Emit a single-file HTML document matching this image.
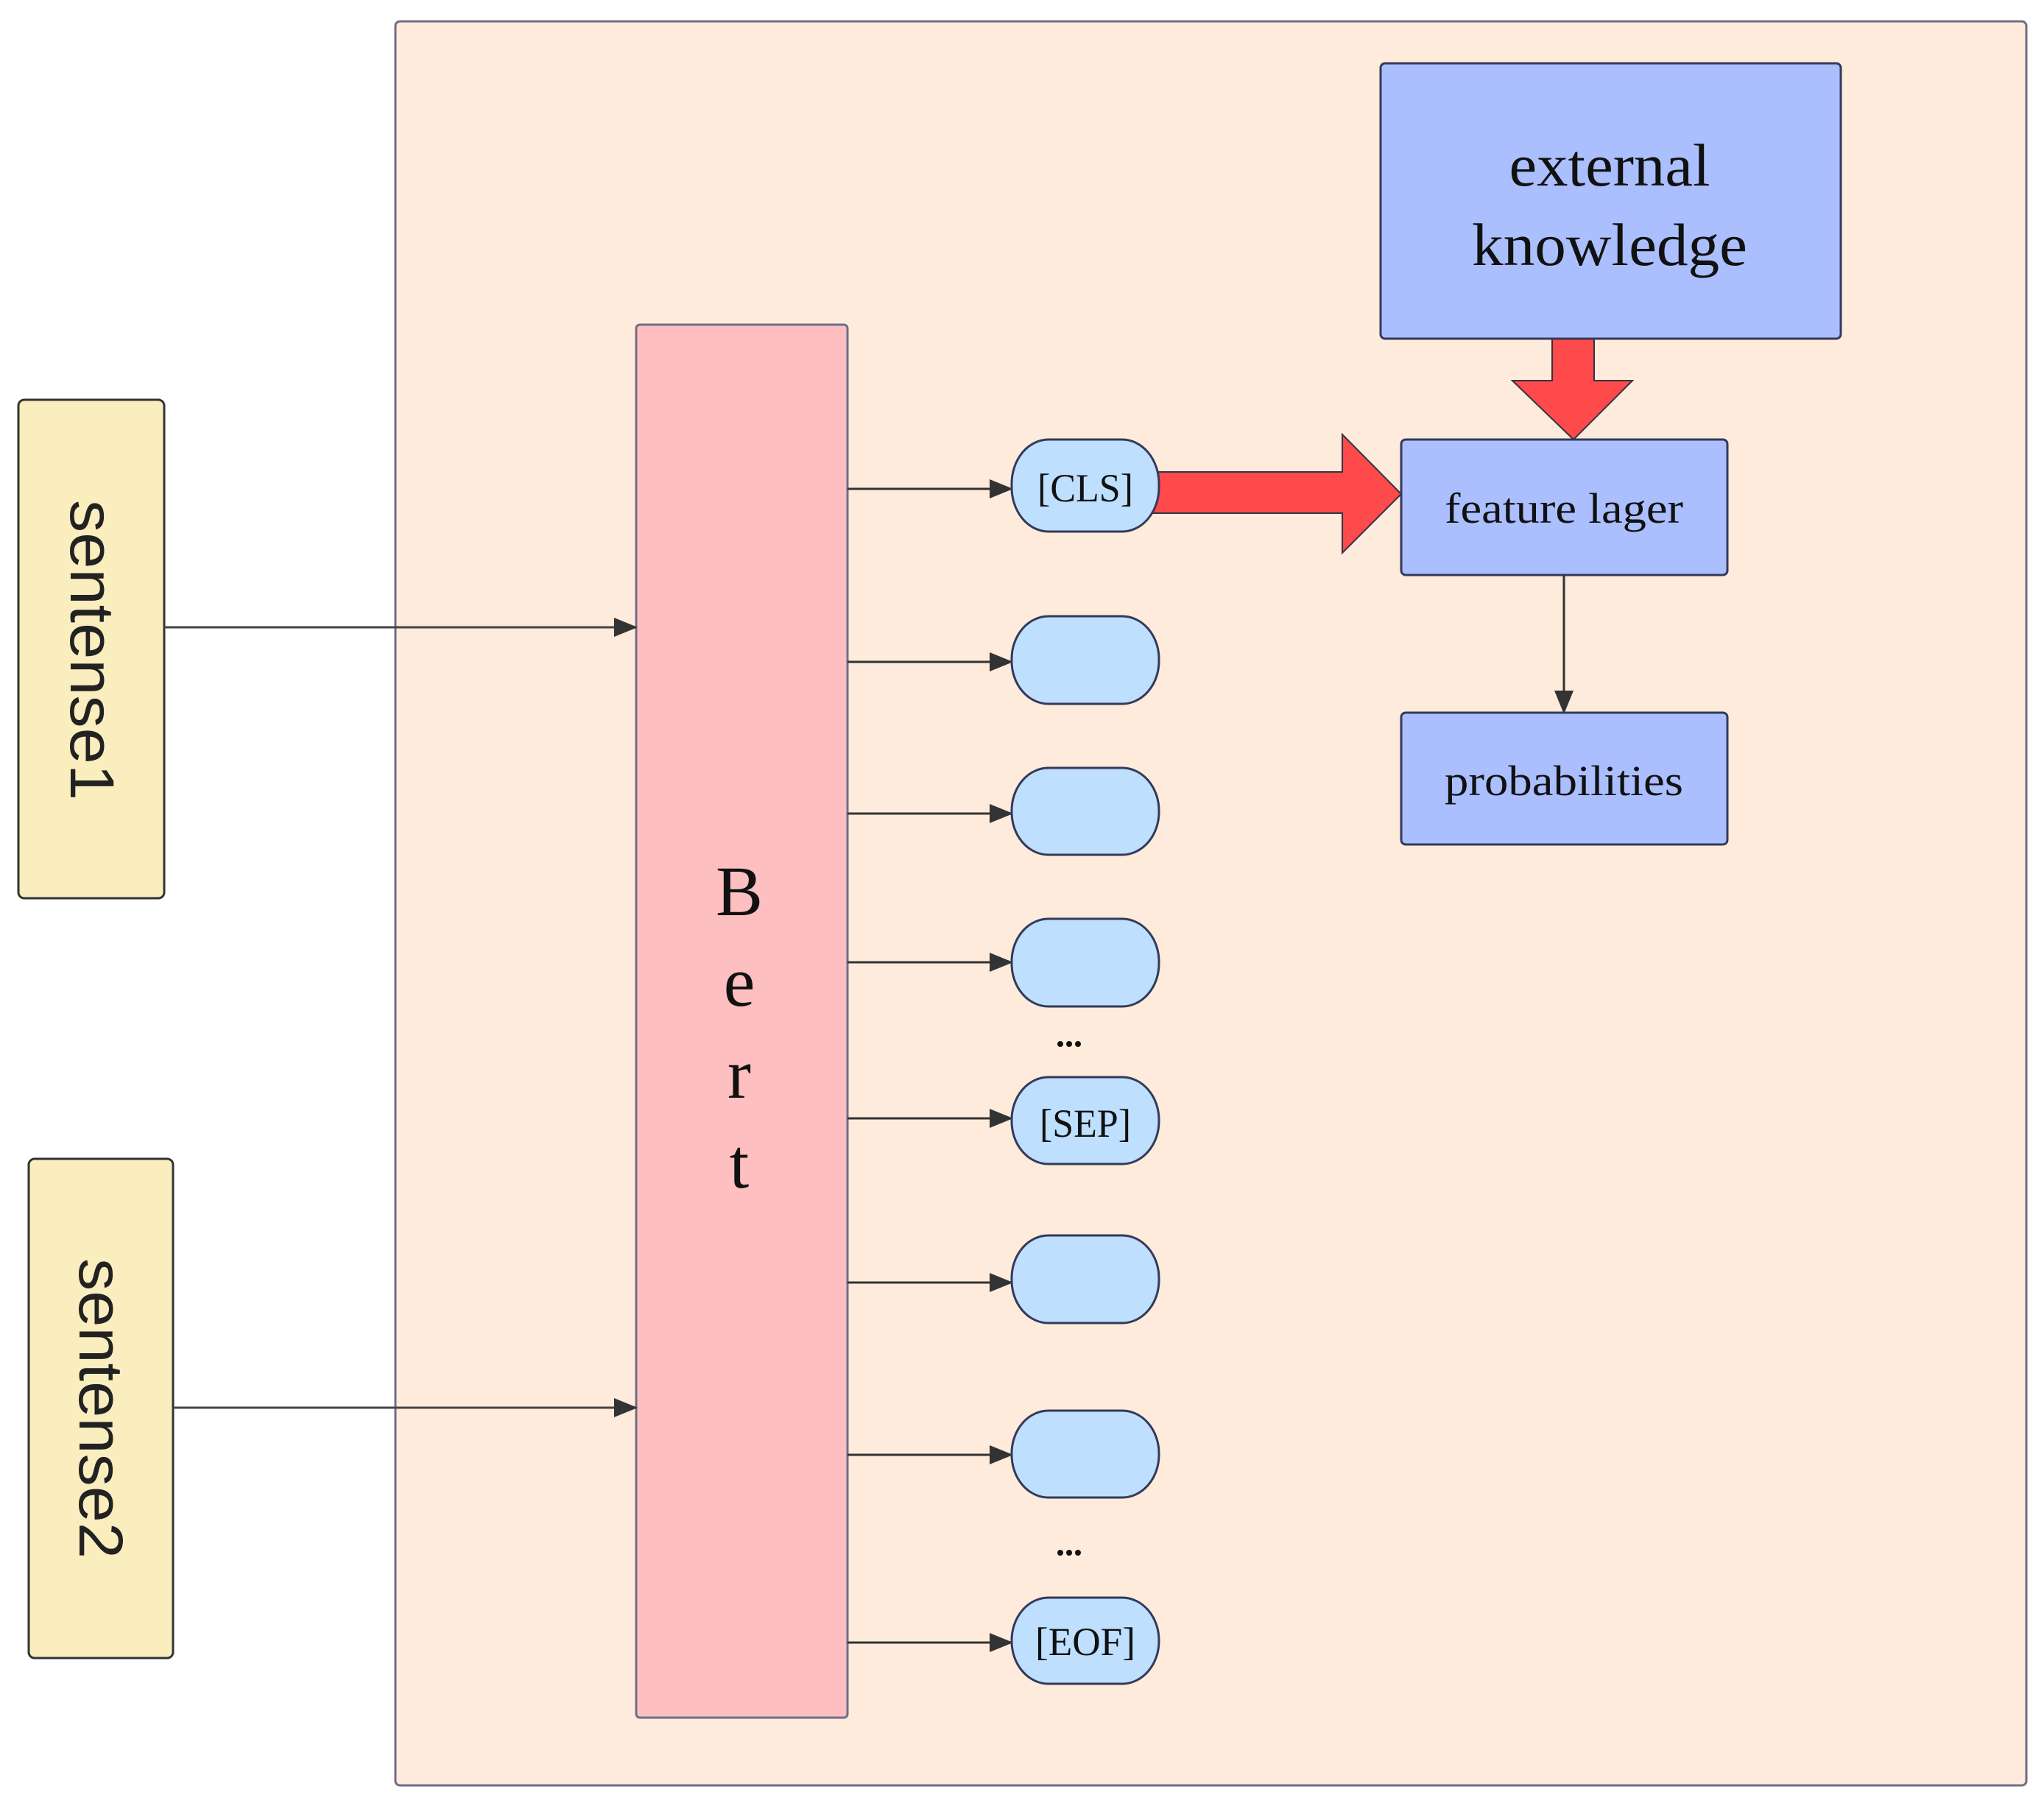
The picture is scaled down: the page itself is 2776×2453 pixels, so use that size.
<!DOCTYPE html>
<html><head><meta charset="utf-8"><style>html,body{margin:0;padding:0;background:#fff}svg{display:block}</style></head>
<body>
<svg width="2776" height="2453" viewBox="0 0 2776 2453" xmlns="http://www.w3.org/2000/svg">
<defs>
<marker id="ah" markerWidth="32" markerHeight="26" refX="30" refY="13" orient="auto" markerUnits="userSpaceOnUse">
<path d="M0,0 L32,13 L0,26 Z" fill="#333"/>
</marker>
</defs>
<rect x="537" y="29" width="2215" height="2396" rx="6" fill="#feebdb" stroke="#6e6e86" stroke-width="3"/>
<rect x="25" y="543" width="198" height="677" rx="8" fill="#faeebf" stroke="#333" stroke-width="3"/>
<text transform="translate(96,883) rotate(90)" x="0" y="0" text-anchor="middle" font-family="Liberation Sans, DejaVu Sans, sans-serif" font-size="84" fill="#222" textLength="408" lengthAdjust="spacingAndGlyphs">sentense1</text>
<rect x="39" y="1574" width="196" height="678" rx="8" fill="#faeebf" stroke="#333" stroke-width="3"/>
<text transform="translate(108,1913) rotate(90)" x="0" y="0" text-anchor="middle" font-family="Liberation Sans, DejaVu Sans, sans-serif" font-size="84" fill="#222" textLength="408" lengthAdjust="spacingAndGlyphs">sentense2</text>
<rect x="864" y="441" width="287" height="1892" rx="5" fill="#fdbfc0" stroke="#6e6e86" stroke-width="3"/>
<g font-family="Liberation Serif, serif" font-size="96" fill="#111" text-anchor="middle">
<text x="1004" y="1243">B</text><text x="1004" y="1366">e</text><text x="1004" y="1491">r</text><text x="1004" y="1613">t</text>
</g>
<line x1="223" y1="852" x2="864" y2="852" stroke="#444" stroke-width="3" marker-end="url(#ah)"/>
<line x1="235" y1="1912" x2="864" y2="1912" stroke="#444" stroke-width="3" marker-end="url(#ah)"/>
<g stroke="#333" stroke-width="3" marker-end="url(#ah)">
<line x1="1151" y1="664" x2="1374" y2="664"/>
<line x1="1151" y1="899" x2="1374" y2="899"/>
<line x1="1151" y1="1105" x2="1374" y2="1105"/>
<line x1="1151" y1="1307" x2="1374" y2="1307"/>
<line x1="1151" y1="1519" x2="1374" y2="1519"/>
<line x1="1151" y1="1742" x2="1374" y2="1742"/>
<line x1="1151" y1="1976" x2="1374" y2="1976"/>
<line x1="1151" y1="2231" x2="1374" y2="2231"/>
</g>
<polygon points="1560,641 1823,641 1823,590 1903,671 1823,751 1823,697 1560,697" fill="#fe4a4a" stroke="#334" stroke-width="2"/>
<polygon points="2108,455 2165,455 2165,517 2217,517 2137,597 2054,517 2108,517" fill="#fe4a4a" stroke="#334" stroke-width="2"/>
<g fill="#bfdffe" stroke="#333a5a" stroke-width="3">
<rect x="1374" y="597" width="200" height="125" rx="50" ry="60"/>
<rect x="1374" y="837" width="200" height="119" rx="50" ry="58"/>
<rect x="1374" y="1043" width="200" height="118" rx="50" ry="58"/>
<rect x="1374" y="1248" width="200" height="119" rx="50" ry="58"/>
<rect x="1374" y="1463" width="200" height="118" rx="50" ry="58"/>
<rect x="1374" y="1678" width="200" height="119" rx="50" ry="58"/>
<rect x="1374" y="1916" width="200" height="118" rx="50" ry="58"/>
<rect x="1374" y="2170" width="200" height="117" rx="50" ry="58"/>
</g>
<g font-family="Liberation Serif, serif" font-size="54" fill="#111" text-anchor="middle">
<text x="1474" y="681" textLength="130" lengthAdjust="spacingAndGlyphs">[CLS]</text>
<text x="1474" y="1544" textLength="124" lengthAdjust="spacingAndGlyphs">[SEP]</text>
<text x="1474" y="2248" textLength="136" lengthAdjust="spacingAndGlyphs">[EOF]</text>
</g>
<g fill="#111">
<circle cx="1440" cy="1418" r="4"/><circle cx="1452" cy="1418" r="4"/><circle cx="1464" cy="1418" r="4"/>
<circle cx="1440" cy="2109" r="4"/><circle cx="1452" cy="2109" r="4"/><circle cx="1464" cy="2109" r="4"/>
</g>
<rect x="1875" y="86" width="625" height="374" rx="6" fill="#abbffe" stroke="#333a5a" stroke-width="3"/>
<g font-family="Liberation Serif, serif" font-size="82" fill="#111" text-anchor="middle">
<text x="2186" y="252" textLength="273" lengthAdjust="spacingAndGlyphs">external</text>
<text x="2186" y="360" textLength="374" lengthAdjust="spacingAndGlyphs">knowledge</text>
</g>
<rect x="1903" y="597" width="443" height="184" rx="6" fill="#abbffe" stroke="#333a5a" stroke-width="3"/>
<text x="2124" y="710" text-anchor="middle" font-family="Liberation Serif, serif" font-size="58" fill="#111" textLength="324" lengthAdjust="spacingAndGlyphs">feature lager</text>
<line x1="2124" y1="781" x2="2124" y2="968" stroke="#333" stroke-width="3" marker-end="url(#ah)"/>
<rect x="1903" y="968" width="443" height="179" rx="6" fill="#abbffe" stroke="#333a5a" stroke-width="3"/>
<text x="2124" y="1080" text-anchor="middle" font-family="Liberation Serif, serif" font-size="58" fill="#111" textLength="324" lengthAdjust="spacingAndGlyphs">probabilities</text>
</svg>
</body></html>
